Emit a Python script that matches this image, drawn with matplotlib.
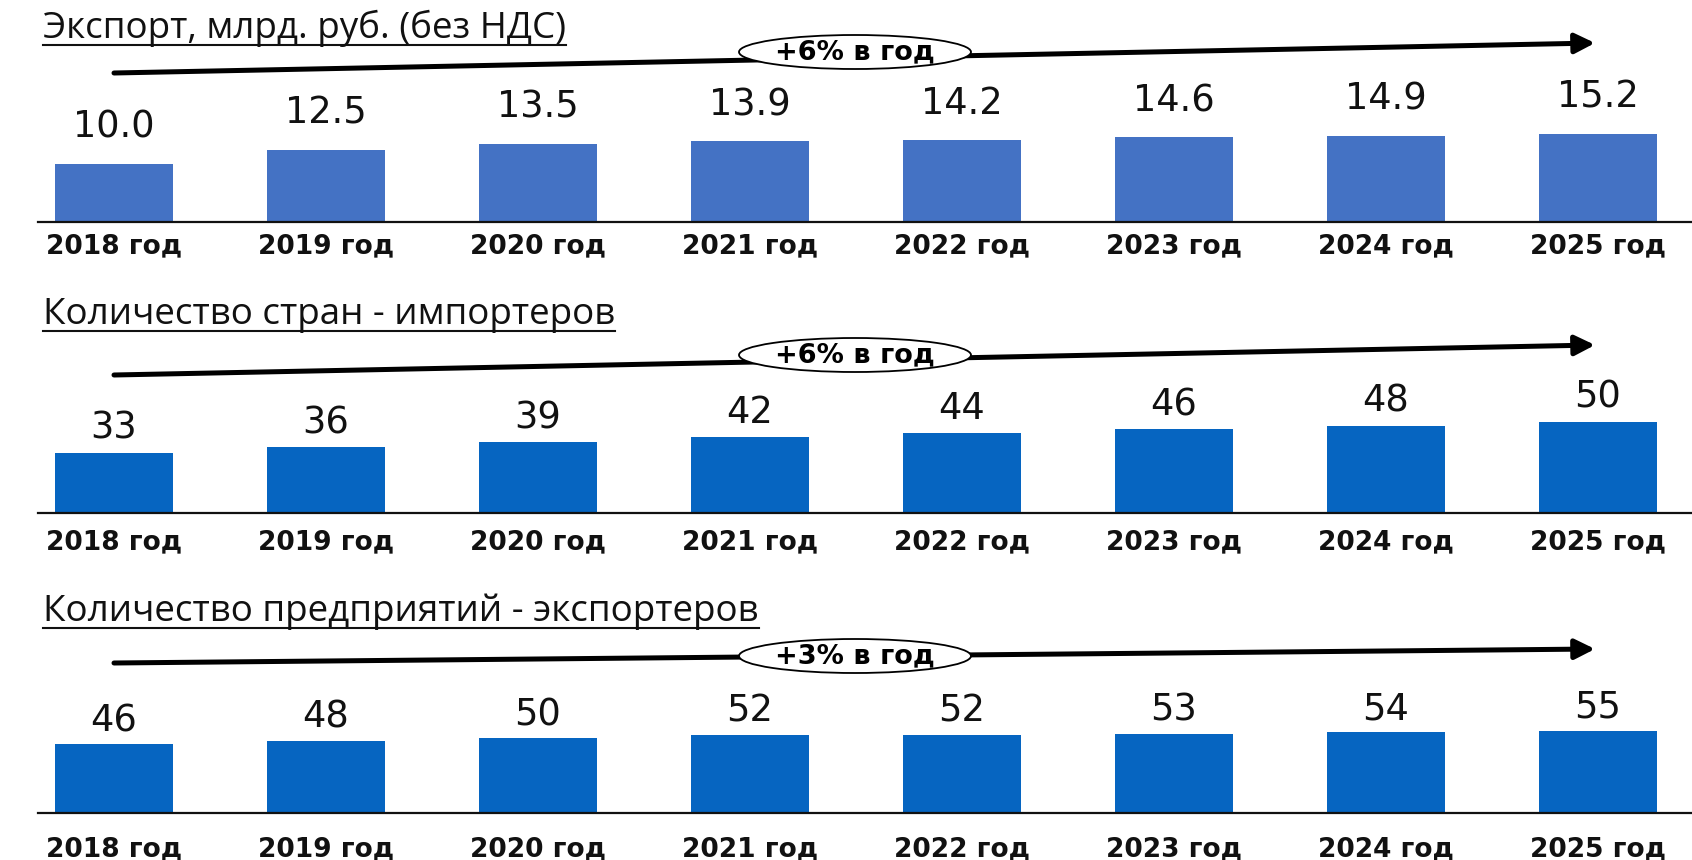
import matplotlib
matplotlib.use("Agg")
import matplotlib.pyplot as plt
from matplotlib.patches import Ellipse, FancyArrowPatch
from matplotlib.lines import Line2D

# ---------------- data ----------------
years = ["2018 год", "2019 год", "2020 год", "2021 год",
         "2022 год", "2023 год", "2024 год", "2025 год"]
export_values = [10.0, 12.5, 13.5, 13.9, 14.2, 14.6, 14.9, 15.2]
countries = [33, 36, 39, 42, 44, 46, 48, 50]
enterprises = [46, 48, 50, 52, 52, 53, 54, 55]
titles = ["Экспорт, млрд. руб. (без НДС)",
          "Количество стран - импортеров",
          "Количество предприятий - экспортеров"]
growth_labels = ["+6% в год", "+6% в год", "+3% в год"]
value_formats = ["{:.1f}", "{:d}", "{:d}"]

# ---------------- layout (pixels, from top-left) ----------------
W, H = 1692, 860
fig = plt.figure(figsize=(W / 100, H / 100), dpi=100)

panels = [
    dict(data=export_values, color="#4472C4", base=222, scale=5.8, lab_gap=26,
         tick_gap=31, title_y=38, arrow=((114, 73), (1595, 43)), ell=(855, 52)),
    dict(data=countries, color="#0665C1", base=513, scale=1.82, lab_gap=14,
         tick_gap=36, title_y=324, arrow=((114, 375), (1595, 345)), ell=(855, 355)),
    dict(data=enterprises, color="#0665C1", base=813, scale=1.5, lab_gap=13,
         tick_gap=43, title_y=621, arrow=((114, 663), (1595, 649)), ell=(855, 656)),
]

left_px, right_px = 38, 1692
first_center, spacing = 114, 212
ax_h = 150


def fx(x):
    return x / W


def fy(y):
    return 1 - y / H


title_texts = []
for k, p in enumerate(panels):
    ax = fig.add_axes([fx(left_px), fy(p["base"]), (right_px - left_px) / W, ax_h / H])
    xs = list(range(len(years)))
    ax.bar(xs, p["data"], width=118 / spacing, color=p["color"], zorder=2)
    ax.set_xlim((left_px - first_center) / spacing, (right_px - first_center) / spacing)
    ax.set_ylim(0, ax_h / p["scale"])
    for s in ["top", "left", "right"]:
        ax.spines[s].set_visible(False)
    ax.spines["bottom"].set_linewidth(1.6)
    ax.spines["bottom"].set_color("#111111")
    ax.set_xticks([])
    ax.set_yticks([])
    ax.patch.set_alpha(0)
    for i, v in enumerate(p["data"]):
        ax.annotate(value_formats[k].format(v), xy=(i, v), xytext=(0, p["lab_gap"]),
                    textcoords="offset pixels", ha="center", va="baseline",
                    fontsize=26.5, family="DejaVu Sans", color="#111111")
        ax.annotate(years[i], xy=(i, 0), xycoords=("data", "axes fraction"),
                    xytext=(0, -p["tick_gap"]), textcoords="offset pixels",
                    ha="center", va="baseline", fontsize=19, fontweight="bold",
                    family="DejaVu Sans", color="#111111", annotation_clip=False)

    # title
    t = fig.text(fx(43), fy(p["title_y"]), titles[k], ha="left", va="baseline",
                 fontsize=26.5, family="Open Sans", color="#111111")
    title_texts.append((t, p))

    # growth arrow
    (x0, y0), (x1, y1) = p["arrow"]
    arr = FancyArrowPatch((fx(x0), fy(y0)), (fx(x1), fy(y1)),
                          transform=fig.transFigure,
                          arrowstyle="-|>,head_length=1.2,head_width=0.6",
                          mutation_scale=10, linewidth=3.6, color="black",
                          shrinkA=0, shrinkB=0, zorder=3)
    fig.add_artist(arr)
    cx, cy = p["ell"]
    e = Ellipse((fx(cx), fy(cy)), 232 / W, 34 / H, transform=fig.transFigure,
                facecolor="white", edgecolor="black", linewidth=1.3, zorder=4)
    fig.add_artist(e)
    fig.text(fx(cx), fy(cy), growth_labels[k], ha="center", va="center",
             fontsize=19.5, fontweight="bold", family="DejaVu Sans", zorder=5)

# underline titles
fig.canvas.draw()
renderer = fig.canvas.get_renderer()
for t, p in title_texts:
    bb = t.get_window_extent(renderer)
    yline = fy(p["title_y"] + 7)
    fig.add_artist(Line2D([bb.x0 / W, bb.x1 / W], [yline, yline],
                          transform=fig.transFigure, color="#111111", linewidth=1.5))

fig.savefig("out.png", dpi=100)
